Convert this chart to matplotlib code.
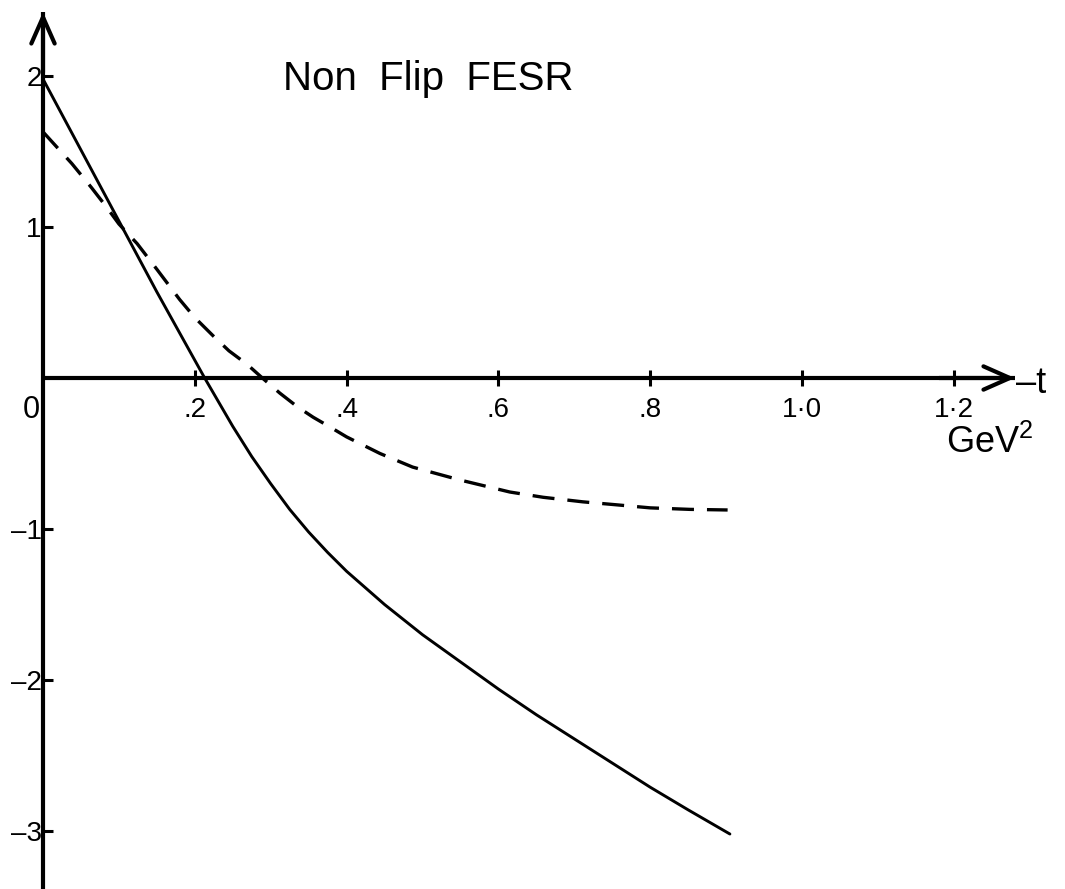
import matplotlib
matplotlib.use("Agg")
import matplotlib.pyplot as plt

plt.rcParams['font.family'] = ['Liberation Sans', 'DejaVu Sans']
plt.rcParams['mathtext.fontset'] = 'custom'
plt.rcParams['mathtext.rm'] = 'Liberation Sans'

# ---- data ----
t_solid = [0.0, 0.05, 0.10, 0.15, 0.213, 0.25, 0.275, 0.30, 0.325, 0.35, 0.375,
           0.40, 0.425, 0.45, 0.475, 0.50, 0.55, 0.60, 0.65, 0.70, 0.75, 0.80,
           0.85, 0.905]
v_solid = [1.98, 1.51, 1.04, 0.57, 0.0, -0.32, -0.52, -0.70, -0.87, -1.02, -1.155,
           -1.28, -1.39, -1.50, -1.60, -1.70, -1.88, -2.06, -2.23, -2.39, -2.55,
           -2.71, -2.86, -3.02]

t_dash = [0.0, 0.038, 0.064, 0.084, 0.10, 0.124, 0.15, 0.18, 0.20, 0.224, 0.245,
          0.269, 0.289, 0.312, 0.335, 0.356, 0.38, 0.40, 0.444, 0.487, 0.549,
          0.615, 0.659, 0.711, 0.756, 0.80, 0.852, 0.902]
v_dash = [1.63, 1.42, 1.26, 1.13, 1.02, 0.89, 0.72, 0.52, 0.40, 0.28, 0.18,
          0.09, 0.0, -0.10, -0.19, -0.26, -0.33, -0.39, -0.50, -0.59, -0.675,
          -0.755, -0.79, -0.82, -0.84, -0.86, -0.87, -0.874]

x_ticks = [0.2, 0.4, 0.6, 0.8, 1.0, 1.2]
x_ticklabels = ['.2', '.4', '.6', '.8', '1·0', '1·2']
y_ticks = [-3, -2, -1, 1, 2]
y_ticklabels = ['\u20133', '\u20132', '\u20131', '1', '2']

title = 'Non  Flip  FESR'

# ---- figure ----
W, H = 1065, 889
fig = plt.figure(figsize=(W / 100, H / 100), dpi=100)
ax = fig.add_axes([0, 0, 1, 1])
ax.patch.set_alpha(0)

x0px, xscale = 43, 759.0
y0px, yscale = 378, 151.0
ax.set_xlim(-x0px / xscale, (W - x0px) / xscale)
ax.set_ylim((y0px - H) / yscale, y0px / yscale)

ytop = (y0px - 12) / yscale
xtip = (1015 - x0px) / xscale

for s in ['top', 'right']:
    ax.spines[s].set_visible(False)
ax.spines['left'].set_position(('data', 0))
ax.spines['bottom'].set_position(('data', 0))
ax.spines['left'].set_bounds(ax.get_ylim()[0], ytop)
ax.spines['bottom'].set_bounds(0, xtip)
for s in ['left', 'bottom']:
    ax.spines[s].set_linewidth(3.0)
    ax.spines[s].set_capstyle('butt')

ax.set_xticks(x_ticks)
ax.set_xticklabels(x_ticklabels)
ax.set_yticks(y_ticks)
ax.set_yticklabels(y_ticklabels)
ax.tick_params(axis='x', direction='inout', length=12, width=2.2, pad=8,
               labelsize=20)
ax.tick_params(axis='y', direction='in', length=7, width=2.2, pad=1,
               labelsize=20)

# arrow heads
arrow = dict(arrowstyle='->,head_length=0.95,head_width=0.42', lw=3,
             mutation_scale=20, shrinkA=0, shrinkB=0, color='black')
ax.annotate('', xy=(0, ytop), xytext=(0, ytop - 0.4), arrowprops=arrow)
ax.annotate('', xy=(xtip, 0), xytext=(xtip - 0.1, 0), arrowprops=arrow)

# curves
ax.plot(t_solid, v_solid, color='black', lw=2.1, solid_capstyle='round',
        solid_joinstyle='round')
ax.plot(t_dash, v_dash, color='black', lw=2.4, dashes=(6.6, 3.9),
        dash_capstyle='butt', dash_joinstyle='round')

# texts
fig.text(283 / W, 1 - 90 / H, title, fontsize=29, ha='left', va='baseline')
fig.text(40 / W, 1 - 418 / H, '0', fontsize=22, ha='right', va='baseline')
fig.text(1016 / W, 1 - 393 / H, '\u2013t', fontsize=26, ha='left', va='baseline')
fig.text(946 / W, 1 - 453 / H, r'GeV$^{\mathregular{2}}$', fontsize=26,
         ha='left', va='baseline')

fig.savefig('out.png', dpi=100)
